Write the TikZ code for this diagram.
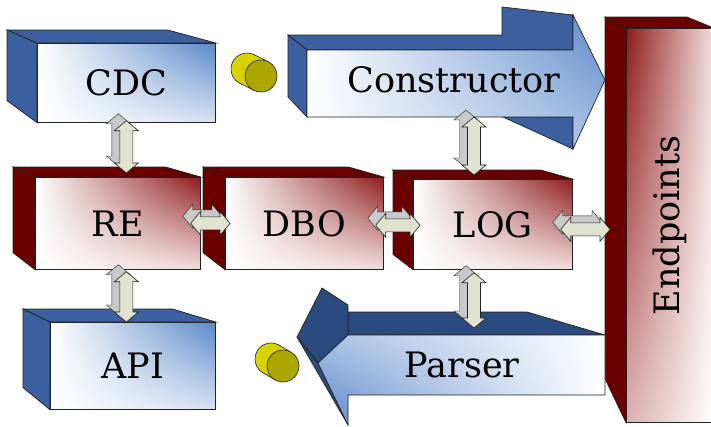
\documentclass[tikz,border=0pt]{standalone}
\usepackage{fontspec}
\setmainfont{DejaVu Serif}
\usetikzlibrary{calc, shadings}
\definecolor{contour}{HTML}{222222}
\definecolor{bleu}{HTML}{5B88C9}
\definecolor{bleumoyen}{HTML}{A9C1E5}
\definecolor{bleupale}{HTML}{D6E2F3}
\definecolor{bleufonce}{HTML}{3B5F9F}
\definecolor{bleunuit}{HTML}{2B4B80}
\definecolor{rouge}{HTML}{8E1C1C}
\definecolor{rosepale}{HTML}{F2DEDE}
\definecolor{rosemoyen}{HTML}{DDB0B0}
\definecolor{rougefonce}{HTML}{6A0000}
\definecolor{jaune}{HTML}{D8D200}
\definecolor{olive}{HTML}{ACA600}
\definecolor{flecheclair}{HTML}{E0E3CF}
\definecolor{flechegris}{HTML}{C8C8C8}
\tikzset{
  face/.style={rectangle, draw=contour, line width=.7pt, inner sep=0pt,
    font=\fontsize{35}{40}\selectfont, anchor=north west},
  facebleue/.style={face, shade, upper left=white, lower left=white,
    upper right=bleu, lower right=bleupale},
  facerouge/.style={face, shade, upper left=white, lower left=white,
    upper right=rouge, lower right=rosepale},
  cotebleu/.style={fill=bleufonce, draw=contour, line width=.7pt},
  coterouge/.style={fill=rougefonce, draw=contour, line width=.7pt},
  cotenuit/.style={fill=bleunuit, draw=contour, line width=.7pt},
  texte/.style={font=\fontsize{35}{40}\selectfont},
  cylindre/.style={fill=jaune, draw=contour, line width=.6pt},
  fleche3d/.style={fill=flecheclair, draw=contour, line width=.6pt,
    preaction={fill=flechegris, draw=contour, transform canvas={shift={(-8pt,7pt)}}},
    to path={let \p1=(\tikztostart), \p2=(\tikztotarget),
      \n1={atan2(\y2-\y1,\x2-\x1)} in
      -- ($(\p1)+(\n1:10pt)+(\n1+90:12pt)$) -- ($(\p1)+(\n1:10pt)+(\n1+90:6.5pt)$)
      -- ($(\p2)+(\n1+180:10pt)+(\n1+90:6.5pt)$) -- ($(\p2)+(\n1+180:10pt)+(\n1+90:12pt)$)
      -- (\p2)
      -- ($(\p2)+(\n1+180:10pt)+(\n1-90:12pt)$) -- ($(\p2)+(\n1+180:10pt)+(\n1-90:6.5pt)$)
      -- ($(\p1)+(\n1:10pt)+(\n1-90:6.5pt)$) -- ($(\p1)+(\n1:10pt)+(\n1-90:12pt)$)
      -- cycle}}
}

\begin{document}
\begin{tikzpicture}[x=1pt, y=-1pt]
  \path[use as bounding box, fill=white] (0,0) rectangle (711,426);

  \node[facebleue, minimum width=178pt, minimum height=79pt] (cdc) at (37,43) {CDC};
  \node[facerouge, minimum width=165pt, minimum height=92pt] (re) at (35,177) {RE};
  \node[facerouge, minimum width=158pt, minimum height=92pt] (dbo) at (225,177) {DBO};
  \node[facerouge, minimum width=159pt, minimum height=90pt] (log) at (413,179) {LOG};
  \node[facebleue, minimum width=165pt, minimum height=87pt] (api) at (50,322) {API};

  \foreach \nom/\dx/\dy/\cote in {cdc/30/13/cotebleu, api/27/13/cotebleu,
      re/22/10/coterouge, dbo/22/10/coterouge, log/20/9/coterouge} {
    \draw[\cote] (\nom.north west) -- ++(-\dx,-\dy) -- ($(\nom.north east)+(-1.6*\dx,-\dy)$)
      -- (\nom.north east) -- cycle;
    \draw[\cote] (\nom.north west) -- ++(-\dx,-\dy) -- ($(\nom.south west)+(-\dx,-1.7*\dy)$)
      -- (\nom.south west) -- cycle;
  }

  % Endpoints
  \node[face, shade, upper left=rouge, lower left=rosemoyen, upper right=rosepale,
    lower right=white, minimum width=87pt, minimum height=394pt] (endpoints) at (626,28)
    {\rotatebox{90}{Endpoints}};
  \draw[coterouge] (endpoints.north west) -- ++(-21,-11) -- ++(82,0)
    -- (endpoints.north east) -- cycle;
  \draw[coterouge] (endpoints.north west) -- ++(-21,-11)
    -- ($(endpoints.south west)+(-21,-44)$) -- (endpoints.south west) -- cycle;

  % Constructor
  \draw[cotebleu] (288,35) -- (502,35) -- (502,7) -- (573,15) -- (573,50) -- (307,50) -- cycle;
  \draw[cotebleu] (288,35) -- (307,50) -- (307,117) -- (288,97) -- cycle;
  \draw[cotebleu] (503,117) -- (573,117) -- (573,149) -- cycle;
  \shade[draw=contour, line width=.7pt, upper left=white, lower left=white,
    upper right=bleu, lower right=bleumoyen]
    (307,50) -- (573,50) -- (573,15) -- (605,80) -- (573,149) -- (573,117) -- (307,117) -- cycle;
  \node[texte] (constructor) at (454,80) {Constructor};

  % Parser
  \draw[cotenuit] (348,312) -- (527,312) -- (605,335) -- (348,335) -- cycle;
  \draw[cotenuit] (322,288) -- (348,305) -- (348,335) -- (318,363) -- (297,337) -- cycle;
  \draw[cotenuit] (297,337) -- (318,363) -- (348,425) -- cycle;
  \shade[draw=contour, line width=.7pt, upper left=bleumoyen, lower left=bleu,
    upper right=white, lower right=white]
    (605,335) -- (348,335) -- (318,363) -- (348,425) -- (348,395) -- (605,395) -- cycle;
  \node[texte] (parser) at (462,365) {Parser};

  % cylindres
  \foreach \ax/\ay/\bx/\by in {247/69/261/76, 271/359/283/366} {
    \draw[cylindre] (\ax,\ay) circle[radius=16pt];
    \fill[jaune] ($(\ax,\ay)+(-7.2,14.3)$) -- ($(\bx,\by)+(-7.2,14.3)$)
      -- ($(\bx,\by)+(7.2,-14.3)$) -- ($(\ax,\ay)+(7.2,-14.3)$) -- cycle;
    \draw[contour, line width=.6pt] ($(\ax,\ay)+(-7.2,14.3)$) -- ($(\bx,\by)+(-7.2,14.3)$);
    \draw[contour, line width=.6pt] ($(\ax,\ay)+(7.2,-14.3)$) -- ($(\bx,\by)+(7.2,-14.3)$);
    \draw[cylindre, fill=olive] (\bx,\by) circle[radius=16pt];
  }

  \coordinate (cbas) at (474,117);
  \coordinate (phaut) at (474,328);

  \draw[fleche3d] ($(cdc.south)+(0,-2)$) to ($(cdc.south |- re.north)+(0,-4)$);
  \draw[fleche3d] ($(re.south -| cdc.south)+(0,2)$) to (api.north -| cdc.south);
  \draw[fleche3d] (cbas) to ($(cbas |- log.north)+(0,-4)$);
  \draw[fleche3d] ($(cbas |- log.south)+(0,3)$) to (phaut);
  \draw[fleche3d] ($(re.east)+(-10,0)$) to ($(dbo.west)+(5,0)$);
  \draw[fleche3d] ($(dbo.east)+(-8,2)$) to ($(log.west |- dbo.east)+(7,2)$);
  \draw[fleche3d] ($(log.east)+(-12,5)$) to ($(endpoints.west |- log.east)+(-16,5)$);
\end{tikzpicture}
\end{document}
